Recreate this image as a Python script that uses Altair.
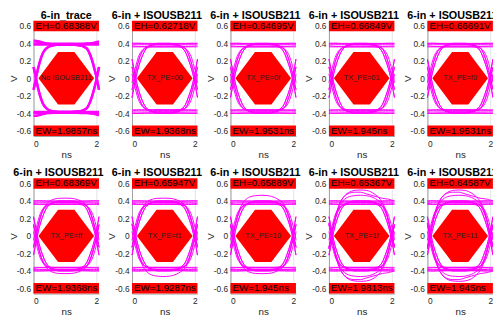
import altair as alt
import pandas as pd

# ---- sample grid (ns) shared by every trace ----
X = [0.0, 0.05, 0.1, 0.15, 0.2, 0.3, 0.4, 0.5, 0.65, 0.8, 1.0, 1.2, 1.4, 1.55, 1.7, 1.8, 1.9, 1.95, 2.0, 2.05, 2.083]

# ---- upper-half traces (V) ----
UP_R1 = [-0.13, -0.05, 0.04, 0.12, 0.19, 0.29, 0.34, 0.365, 0.38, 0.385, 0.385, 0.385, 0.385, 0.385, 0.385, 0.385, 0.385, 0.385, 0.385, 0.385, 0.385]
UP_R2 = [-0.05, 0.03, 0.11, 0.18, 0.24, 0.31, 0.345, 0.355, 0.36, 0.36, 0.36, 0.36, 0.36, 0.36, 0.36, 0.36, 0.36, 0.36, 0.36, 0.36, 0.36]
UP_R3 = [-0.22, -0.13, -0.04, 0.05, 0.12, 0.23, 0.31, 0.355, 0.385, 0.40, 0.40, 0.40, 0.40, 0.40, 0.40, 0.40, 0.40, 0.40, 0.40, 0.40, 0.40]
UP_F1 = [0.385, 0.385, 0.385, 0.385, 0.385, 0.385, 0.385, 0.385, 0.385, 0.385, 0.385, 0.385, 0.38, 0.37, 0.34, 0.27, 0.16, 0.09, 0.02, -0.07, -0.13]
UP_F2 = [0.36, 0.36, 0.36, 0.36, 0.36, 0.36, 0.36, 0.36, 0.36, 0.36, 0.36, 0.36, 0.36, 0.355, 0.34, 0.305, 0.23, 0.17, 0.10, 0.03, -0.05]
UP_F3 = [0.40, 0.40, 0.40, 0.40, 0.40, 0.40, 0.40, 0.40, 0.40, 0.40, 0.40, 0.40, 0.39, 0.36, 0.30, 0.21, 0.10, 0.03, -0.05, -0.15, -0.22]
UP_RF1 = [-0.13, -0.05, 0.04, 0.12, 0.19, 0.29, 0.34, 0.365, 0.38, 0.385, 0.385, 0.385, 0.38, 0.37, 0.34, 0.27, 0.16, 0.09, 0.02, -0.07, -0.13]
UP_RF3 = [-0.22, -0.13, -0.04, 0.05, 0.12, 0.23, 0.31, 0.355, 0.385, 0.40, 0.40, 0.40, 0.39, 0.36, 0.30, 0.21, 0.10, 0.03, -0.05, -0.15, -0.22]
UP_H1 = [0.37, 0.37, 0.368, 0.366, 0.365, 0.365, 0.365, 0.366, 0.367, 0.368, 0.368, 0.368, 0.368, 0.367, 0.366, 0.366, 0.367, 0.368, 0.37, 0.37, 0.37]
UP_H2 = [0.40, 0.40, 0.401, 0.402, 0.402, 0.40, 0.398, 0.397, 0.396, 0.396, 0.396, 0.396, 0.396, 0.397, 0.398, 0.40, 0.401, 0.402, 0.40, 0.40, 0.40]
UP_T = [0.43, 0.43, 0.428, 0.425, 0.42, 0.41, 0.40, 0.395, 0.39, 0.39, 0.39, 0.39, 0.39, 0.392, 0.396, 0.40, 0.405, 0.41, 0.415, 0.42, 0.42]
UP_B_SMALL = [-0.13, -0.05, 0.04, 0.12, 0.195, 0.30, 0.36, 0.395, 0.42, 0.43, 0.432, 0.43, 0.415, 0.39, 0.345, 0.28, 0.165, 0.09, 0.01, -0.07, -0.13]
UP_B_MID = [-0.14, -0.055, 0.04, 0.125, 0.20, 0.31, 0.38, 0.42, 0.45, 0.46, 0.465, 0.46, 0.44, 0.41, 0.36, 0.29, 0.17, 0.09, 0.01, -0.07, -0.13]
UP_B_BIG = [-0.15, -0.06, 0.04, 0.13, 0.21, 0.33, 0.41, 0.46, 0.50, 0.52, 0.525, 0.52, 0.49, 0.45, 0.38, 0.30, 0.17, 0.09, 0.01, -0.07, -0.13]
UP_B_BIG2 = [-0.15, -0.06, 0.04, 0.13, 0.21, 0.33, 0.41, 0.455, 0.49, 0.50, 0.50, 0.48, 0.46, 0.445, 0.43, 0.425, 0.42, 0.415, 0.41, 0.405, 0.40]

# ---- lower-half traces (V) ----
LO_R1 = [0.13, 0.05, -0.04, -0.12, -0.19, -0.29, -0.34, -0.365, -0.38, -0.385, -0.385, -0.385, -0.385, -0.385, -0.385, -0.385, -0.385, -0.385, -0.385, -0.385, -0.385]
LO_R2 = [0.05, -0.03, -0.11, -0.18, -0.24, -0.31, -0.345, -0.355, -0.36, -0.36, -0.36, -0.36, -0.36, -0.36, -0.36, -0.36, -0.36, -0.36, -0.36, -0.36, -0.36]
LO_R3 = [0.22, 0.13, 0.04, -0.05, -0.12, -0.23, -0.31, -0.355, -0.385, -0.40, -0.40, -0.40, -0.40, -0.40, -0.40, -0.40, -0.40, -0.40, -0.40, -0.40, -0.40]
LO_F1 = [-0.385, -0.385, -0.385, -0.385, -0.385, -0.385, -0.385, -0.385, -0.385, -0.385, -0.385, -0.385, -0.38, -0.37, -0.34, -0.27, -0.16, -0.09, -0.02, 0.07, 0.13]
LO_F2 = [-0.36, -0.36, -0.36, -0.36, -0.36, -0.36, -0.36, -0.36, -0.36, -0.36, -0.36, -0.36, -0.36, -0.355, -0.34, -0.305, -0.23, -0.17, -0.10, -0.03, 0.05]
LO_F3 = [-0.40, -0.40, -0.40, -0.40, -0.40, -0.40, -0.40, -0.40, -0.40, -0.40, -0.40, -0.40, -0.39, -0.36, -0.30, -0.21, -0.10, -0.03, 0.05, 0.15, 0.22]
LO_RF1 = [0.13, 0.05, -0.04, -0.12, -0.19, -0.29, -0.34, -0.365, -0.38, -0.385, -0.385, -0.385, -0.38, -0.37, -0.34, -0.27, -0.16, -0.09, -0.02, 0.07, 0.13]
LO_RF3 = [0.22, 0.13, 0.04, -0.05, -0.12, -0.23, -0.31, -0.355, -0.385, -0.40, -0.40, -0.40, -0.39, -0.36, -0.30, -0.21, -0.10, -0.03, 0.05, 0.15, 0.22]
LO_H1 = [-0.37, -0.37, -0.368, -0.366, -0.365, -0.365, -0.365, -0.366, -0.367, -0.368, -0.368, -0.368, -0.368, -0.367, -0.366, -0.366, -0.367, -0.368, -0.37, -0.37, -0.37]
LO_H2 = [-0.40, -0.40, -0.401, -0.402, -0.402, -0.40, -0.398, -0.397, -0.396, -0.396, -0.396, -0.396, -0.396, -0.397, -0.398, -0.40, -0.401, -0.402, -0.40, -0.40, -0.40]
LO_T = [-0.43, -0.43, -0.428, -0.425, -0.42, -0.41, -0.40, -0.395, -0.39, -0.39, -0.39, -0.39, -0.39, -0.392, -0.396, -0.40, -0.405, -0.41, -0.415, -0.42, -0.42]
LO_B_SMALL = [0.13, 0.05, -0.04, -0.12, -0.195, -0.30, -0.36, -0.395, -0.42, -0.43, -0.432, -0.43, -0.415, -0.39, -0.345, -0.28, -0.165, -0.09, -0.01, 0.07, 0.13]
LO_B_MID = [0.14, 0.055, -0.04, -0.125, -0.20, -0.31, -0.38, -0.42, -0.45, -0.46, -0.465, -0.46, -0.44, -0.41, -0.36, -0.29, -0.17, -0.09, -0.01, 0.07, 0.13]
LO_B_BIG = [0.15, 0.06, -0.04, -0.13, -0.21, -0.33, -0.41, -0.46, -0.50, -0.515, -0.52, -0.515, -0.49, -0.45, -0.38, -0.30, -0.17, -0.09, -0.01, 0.07, 0.13]
LO_B_BIG2 = [0.15, 0.06, -0.04, -0.13, -0.21, -0.33, -0.41, -0.455, -0.49, -0.50, -0.50, -0.48, -0.46, -0.445, -0.43, -0.425, -0.42, -0.415, -0.41, -0.405, -0.40]

SHAPES = {
    "UP_R1": UP_R1, "UP_R2": UP_R2, "UP_R3": UP_R3, "UP_F1": UP_F1, "UP_F2": UP_F2,
    "UP_F3": UP_F3, "UP_RF1": UP_RF1, "UP_RF3": UP_RF3, "UP_H1": UP_H1, "UP_H2": UP_H2,
    "UP_T": UP_T, "UP_B_SMALL": UP_B_SMALL, "UP_B_MID": UP_B_MID, "UP_B_BIG": UP_B_BIG,
    "UP_B_BIG2": UP_B_BIG2,
    "LO_R1": LO_R1, "LO_R2": LO_R2, "LO_R3": LO_R3, "LO_F1": LO_F1, "LO_F2": LO_F2,
    "LO_F3": LO_F3, "LO_RF1": LO_RF1, "LO_RF3": LO_RF3, "LO_H1": LO_H1, "LO_H2": LO_H2,
    "LO_T": LO_T, "LO_B_SMALL": LO_B_SMALL, "LO_B_MID": LO_B_MID, "LO_B_BIG": LO_B_BIG,
    "LO_B_BIG2": LO_B_BIG2,
}

PLAIN = ["UP_R1", "UP_R2", "UP_R3", "UP_F1", "UP_F2", "UP_F3", "UP_RF1", "UP_RF3", "UP_H1", "UP_H2",
         "LO_R1", "LO_R2", "LO_R3", "LO_F1", "LO_F2", "LO_F3", "LO_RF1", "LO_RF3", "LO_H1", "LO_H2"]
TRACE_ONLY = ["UP_R1", "UP_F1", "UP_RF1", "UP_H2", "UP_T", "LO_R1", "LO_F1", "LO_RF1", "LO_H2", "LO_T"]

PANEL_TRACES = [
    TRACE_ONLY, PLAIN, PLAIN, PLAIN, PLAIN,
    PLAIN + ["UP_B_SMALL", "LO_B_SMALL"],
    PLAIN + ["UP_B_SMALL", "LO_B_MID"],
    PLAIN + ["UP_B_MID", "LO_B_SMALL"],
    PLAIN + ["UP_B_BIG", "UP_B_BIG2", "UP_B_MID", "LO_B_BIG", "LO_B_BIG2", "LO_B_MID"],
    PLAIN + ["UP_B_BIG", "UP_B_BIG2", "UP_B_MID", "LO_B_BIG", "LO_B_BIG2", "LO_B_MID"],
]
PANEL_STROKE = [2.4, 1, 1, 1, 1, 1, 1, 1, 1, 1]

PANEL_TITLES = ["6-in_trace"] + ["6-in + ISOUSB211"] * 9
PANEL_LABELS = ["No ISOUSB211", "TX_PE=00", "TX_PE=0f", "TX_PE=01", "TX_PE=f0",
                "TX_PE=ff", "TX_PE=f1", "TX_PE=10", "TX_PE=1f", "TX_PE=11"]
EH_VALUES = ["0.68388", "0.62718", "0.64695", "0.66849", "0.66691",
             "0.68369", "0.65947", "0.65889", "0.65367", "0.64587"]
EW_VALUES = ["1.9857", "1.9368", "1.9531", "1.945", "1.9531",
             "1.9368", "1.9287", "1.945", "1.9813", "1.945"]

# USB eye mask (hexagon)
MASK_X = [0.156, 0.781, 1.302, 1.927]
MASK_TOP = [0.0, 0.3, 0.3, 0.0]
MASK_BOTTOM = [0.0, -0.3, -0.3, 0.0]

X_MAX = 2.083
Y_DOMAIN = [-0.66, 0.66]
Y_TICKS = [-0.6, -0.4, -0.2, 0, 0.2, 0.4, 0.6]
X_TICKS = [0, 1, 2]

PANEL_W = 66.7
PANEL_H = 117.5

FONT = "Liberation Sans"
MAGENTA = "#ff00ff"
RED = "#ff0000"

xscale = alt.Scale(domain=[0, X_MAX], nice=False, zero=False)
yscale = alt.Scale(domain=Y_DOMAIN, nice=False, zero=False)
xaxis = alt.Axis(values=X_TICKS, title="ns", format="d")
yaxis = alt.Axis(
    values=Y_TICKS, title="V",
    titleX=-20.5, titleY=PANEL_H / 2, titleAngle=270,
    titleAlign="center", titleBaseline="middle",
    labelExpr="datum.value < 0 ? '-' + format(-datum.value, '.1f') : (datum.value == 0 ? '0' : format(datum.value, '.1f'))",
)


def panel(i):
    rows = []
    for name in PANEL_TRACES[i]:
        for k, (xv, yv) in enumerate(zip(X, SHAPES[name])):
            rows.append({"trace": name, "x": xv, "y": yv, "k": k})
    traces = alt.Chart(pd.DataFrame(rows)).mark_line(
        color=MAGENTA, strokeWidth=PANEL_STROKE[i], interpolate="monotone"
    ).encode(
        x=alt.X("x:Q", scale=xscale, axis=xaxis),
        y=alt.Y("y:Q", scale=yscale, axis=yaxis),
        detail="trace:N",
        order="k:Q",
    )
    mask = alt.Chart(pd.DataFrame({"x": MASK_X, "top": MASK_TOP, "bot": MASK_BOTTOM})).mark_area(
        color=RED, opacity=1, interpolate="linear"
    ).encode(
        x=alt.X("x:Q", scale=xscale, axis=xaxis),
        y=alt.Y("top:Q", scale=yscale, axis=yaxis),
        y2="bot:Q",
    )
    boxes = alt.Chart(pd.DataFrame({
        "x": [0, 0], "x2": [X_MAX, X_MAX], "y": [0.54, -0.54], "y2": [0.66, -0.66]
    })).mark_rect(color=RED).encode(
        x=alt.X("x:Q", scale=xscale, axis=xaxis), x2="x2:Q",
        y=alt.Y("y:Q", scale=yscale, axis=yaxis), y2="y2:Q",
    )
    texts = alt.Chart(pd.DataFrame({
        "x": [0, 0], "y": [0.6, -0.6],
        "t": ["EH=" + EH_VALUES[i] + "V", "EW=" + EW_VALUES[i] + "ns"],
    })).mark_text(align="left", baseline="middle", dx=2, fontSize=10, font=FONT, color="#000000").encode(
        x=alt.X("x:Q", scale=xscale, axis=xaxis),
        y=alt.Y("y:Q", scale=yscale, axis=yaxis),
        text="t:N",
    )
    label = alt.Chart(pd.DataFrame({"x": [1.04], "y": [0.0], "t": [PANEL_LABELS[i]]})).mark_text(
        align="center", baseline="middle", fontSize=7.5, font=FONT, color="#222222"
    ).encode(
        x=alt.X("x:Q", scale=xscale, axis=xaxis),
        y=alt.Y("y:Q", scale=yscale, axis=yaxis),
        text="t:N",
    )
    title = alt.TitleParams(
        PANEL_TITLES[i], fontSize=11, fontWeight="bold", font=FONT, color="#000000",
        offset=0, anchor="middle", dx=0 if i == 0 else -8,
    )
    return alt.layer(traces, mask, boxes, texts, label).properties(
        width=PANEL_W, height=PANEL_H, title=title
    )


chart = alt.concat(
    *[panel(i) for i in range(10)],
    columns=5,
    spacing={"row": 42.5, "column": 100 - PANEL_W},
    bounds="flush",
).properties(
    padding={"left": 0, "top": -1, "right": -5, "bottom": -2}
).configure_view(
    stroke=None
).configure_axis(
    labelFont=FONT, labelFontSize=8.5, labelColor="#262626",
    titleFont=FONT, titleFontSize=10, titleFontWeight="normal", titleColor="#262626",
    ticks=False, domainColor="#a0a0a0", domainWidth=1,
).configure_axisX(
    grid=True, gridColor="#e3e3e3", labelPadding=3.5, titlePadding=1.5,
).configure_axisY(
    grid=False, labelPadding=3,
)

chart.save("out.html", embed_options={"renderer": "svg", "actions": False})
